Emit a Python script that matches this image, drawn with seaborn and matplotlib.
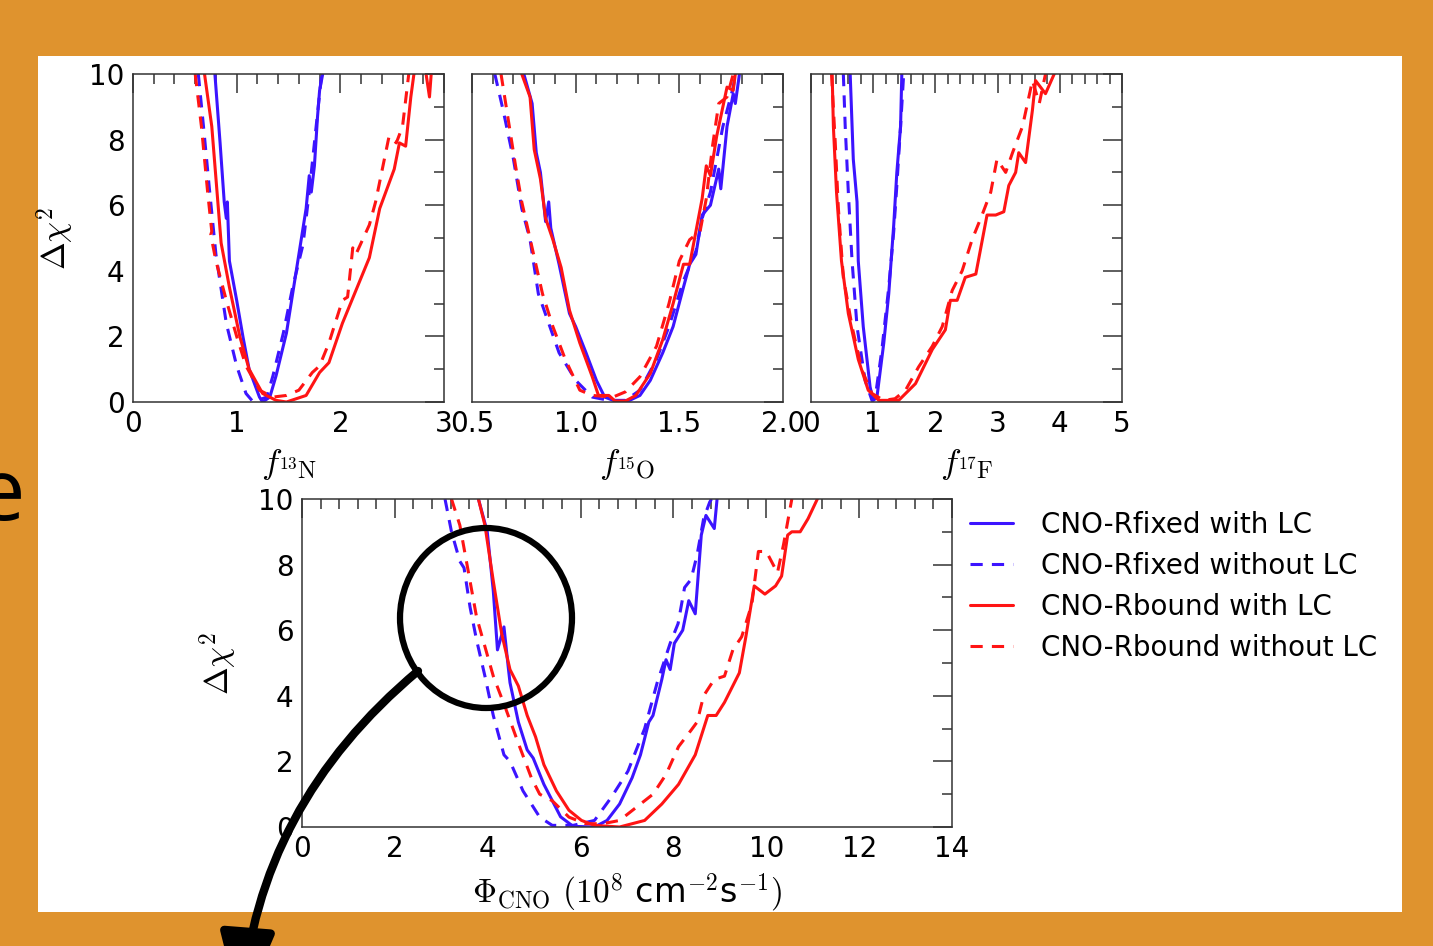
import pandas as pd
import matplotlib
matplotlib.use('Agg')
import matplotlib.pyplot as plt
import seaborn as sns
from matplotlib.patches import Ellipse, FancyArrowPatch, Rectangle
from matplotlib.lines import Line2D
from matplotlib.ticker import MultipleLocator

series = ['CNO-Rfixed with LC', 'CNO-Rfixed without LC',
          'CNO-Rbound with LC', 'CNO-Rbound without LC']

# --- f_13N panel
n13_fixed_lc_x = [0.79, 0.84, 0.88, 0.90, 0.91, 0.93, 1.00, 1.06, 1.12, 1.22, 1.25, 1.32, 1.38, 1.48, 1.54, 1.60, 1.67, 1.70, 1.72, 1.75, 1.78, 1.80, 1.83]
n13_fixed_lc_y = [10.0, 7.9, 6.1, 5.6, 6.1, 4.3, 3.1, 2.0, 1.0, 0.15, 0.0, 0.15, 0.8, 2.1, 3.3, 4.5, 5.9, 6.9, 6.4, 7.2, 8.7, 9.5, 10.0]
n13_fixed_nolc_x = [0.63, 0.68, 0.74, 0.80, 0.90, 1.00, 1.09, 1.16, 1.29, 1.35, 1.45, 1.54, 1.64, 1.70, 1.75, 1.80, 1.82]
n13_fixed_nolc_y = [10.0, 8.4, 6.4, 4.5, 2.4, 1.1, 0.26, 0.0, 0.15, 0.8, 2.1, 3.5, 4.8, 6.4, 7.9, 9.4, 10.0]
n13_bound_lc_x = [0.69, 0.76, 0.85, 0.93, 1.03, 1.12, 1.25, 1.38, 1.48, 1.67, 1.80, 1.89, 2.02, 2.15, 2.28, 2.38, 2.52, 2.57, 2.63, 2.68, 2.71, 2.78, 2.86, 2.90]
n13_bound_lc_y = [10.0, 8.4, 4.85, 3.5, 2.0, 1.0, 0.26, 0.05, 0.0, 0.2, 0.9, 1.2, 2.4, 3.4, 4.4, 5.9, 7.1, 7.9, 7.8, 9.3, 10.0, 11.0, 9.3, 11.0]
n13_bound_nolc_x = [0.60, 0.66, 0.72, 0.76, 0.75, 0.80, 0.90, 1.00, 1.09, 1.22, 1.35, 1.48, 1.60, 1.73, 1.80, 1.89, 2.02, 2.07, 2.12, 2.15, 2.28, 2.34, 2.47, 2.54, 2.60, 2.66]
n13_bound_nolc_y = [10.0, 8.4, 6.4, 5.2, 5.1, 4.3, 3.1, 2.0, 1.1, 0.36, 0.15, 0.2, 0.36, 0.9, 1.1, 1.8, 3.1, 3.2, 4.7, 4.5, 5.4, 6.1, 8.1, 7.9, 8.4, 10.0]

# --- f_15O panel
o15_fixed_lc_x = [0.75, 0.79, 0.81, 0.83, 0.855, 0.87, 0.88, 0.92, 0.97, 1.00, 1.05, 1.10, 1.14, 1.19, 1.26, 1.31, 1.36, 1.42, 1.47, 1.52, 1.55, 1.58, 1.61, 1.65, 1.69, 1.70, 1.73, 1.76, 1.77, 1.79]
o15_fixed_lc_y = [10.0, 9.1, 7.6, 7.0, 5.5, 6.1, 5.3, 4.2, 2.7, 2.3, 1.5, 0.66, 0.15, 0.03, 0.05, 0.2, 0.66, 1.5, 2.3, 3.5, 4.2, 4.5, 5.7, 6.0, 7.1, 6.5, 8.4, 9.4, 9.1, 10.0]
o15_fixed_nolc_x = [0.61, 0.65, 0.70, 0.74, 0.78, 0.82, 0.87, 0.92, 1.00, 1.08, 1.16, 1.24, 1.31, 1.39, 1.45, 1.52, 1.58, 1.61, 1.65, 1.68, 1.71, 1.76, 1.77]
o15_fixed_nolc_y = [10.0, 8.9, 7.4, 5.9, 4.95, 3.3, 2.4, 1.5, 0.66, 0.15, 0.05, 0.05, 0.36, 1.3, 2.3, 3.7, 4.6, 5.6, 6.4, 7.4, 8.4, 9.6, 10.0]
o15_bound_lc_x = [0.74, 0.78, 0.80, 0.83, 0.855, 0.89, 0.93, 0.97, 1.02, 1.08, 1.11, 1.16, 1.19, 1.24, 1.29, 1.36, 1.42, 1.47, 1.52, 1.55, 1.58, 1.61, 1.63, 1.65, 1.68, 1.73, 1.76, 1.77]
o15_bound_lc_y = [10.0, 9.3, 7.7, 6.8, 5.6, 4.95, 4.1, 2.8, 1.8, 0.77, 0.2, 0.2, 0.03, 0.03, 0.2, 0.87, 1.9, 3.0, 4.2, 4.2, 5.2, 6.2, 7.2, 6.9, 8.1, 9.6, 9.5, 10.0]
o15_bound_nolc_x = [0.64, 0.68, 0.71, 0.74, 0.79, 0.84, 0.89, 0.95, 1.02, 1.08, 1.18, 1.24, 1.31, 1.39, 1.45, 1.50, 1.55, 1.60, 1.63, 1.66, 1.69, 1.73, 1.76]
o15_bound_nolc_y = [10.0, 8.4, 7.2, 6.1, 4.7, 3.3, 2.3, 1.3, 0.36, 0.2, 0.15, 0.31, 0.77, 1.7, 3.0, 4.3, 4.95, 5.2, 6.2, 7.8, 9.1, 9.3, 10.0]

# --- f_17F panel
f17_fixed_lc_x = [0.63, 0.68, 0.74, 0.76, 0.84, 0.95, 1.00, 1.06, 1.17, 1.25, 1.33, 1.38, 1.44, 1.46]
f17_fixed_lc_y = [10.0, 7.4, 6.1, 4.3, 2.3, 0.46, 0.05, 0.15, 1.8, 3.3, 5.4, 7.0, 8.4, 10.0]
f17_fixed_nolc_x = [0.52, 0.55, 0.60, 0.66, 0.74, 0.87, 0.98, 1.03, 1.14, 1.25, 1.33, 1.38, 1.44, 1.49]
f17_fixed_nolc_y = [10.0, 8.4, 6.4, 4.3, 2.3, 0.66, 0.05, 0.1, 1.6, 3.5, 5.2, 6.6, 8.4, 10.0]
f17_bound_lc_x = [0.34, 0.36, 0.41, 0.49, 0.60, 0.76, 0.92, 1.09, 1.41, 1.68, 1.95, 2.16, 2.24, 2.35, 2.48, 2.65, 2.83, 2.97, 3.10, 3.18, 3.29, 3.34, 3.45, 3.56, 3.61, 3.77, 3.91]
f17_bound_lc_y = [10.0, 8.4, 6.4, 4.3, 2.7, 1.3, 0.36, 0.05, 0.05, 0.56, 1.6, 2.2, 3.1, 3.1, 3.8, 3.9, 5.7, 5.7, 5.8, 6.6, 7.0, 7.6, 7.3, 8.9, 9.8, 9.4, 10.0]
f17_bound_nolc_x = [0.33, 0.39, 0.44, 0.52, 0.66, 0.82, 0.98, 1.17, 1.35, 1.52, 1.73, 1.95, 2.11, 2.27, 2.43, 2.59, 2.75, 2.89, 2.99, 3.13, 3.24, 3.40, 3.56, 3.67, 3.77]
f17_bound_nolc_y = [10.0, 7.9, 5.9, 3.8, 2.3, 0.97, 0.26, 0.05, 0.1, 0.36, 1.07, 1.7, 2.3, 3.4, 4.0, 4.95, 5.7, 6.4, 7.4, 7.0, 7.6, 8.4, 9.8, 9.1, 10.0]

# --- Phi_CNO panel
cno_fixed_lc_x = [3.80, 3.99, 4.12, 4.21, 4.35, 4.44, 4.48, 4.66, 4.85, 4.98, 5.21, 5.57, 5.84, 6.30, 6.57, 6.84, 7.11, 7.29, 7.47, 7.56, 7.75, 7.84, 7.93, 8.02, 8.20, 8.33, 8.47, 8.60, 8.70, 8.88, 8.94]
cno_fixed_lc_y = [10.0, 9.0, 7.2, 5.4, 6.1, 4.9, 4.4, 3.2, 2.35, 2.1, 1.3, 0.31, 0.02, 0.0, 0.2, 0.7, 1.5, 2.2, 3.2, 3.4, 4.5, 5.1, 4.8, 5.6, 6.0, 6.9, 6.5, 8.9, 9.5, 9.1, 10.0]
cno_fixed_nolc_x = [3.08, 3.22, 3.40, 3.49, 3.62, 3.76, 3.94, 4.12, 4.35, 4.48, 4.76, 5.12, 5.39, 5.84, 6.30, 6.66, 7.02, 7.38, 7.65, 7.93, 8.10, 8.24, 8.38, 8.51, 8.65, 8.78, 8.82]
cno_fixed_nolc_y = [10.0, 9.0, 8.1, 7.9, 6.7, 5.7, 4.6, 3.4, 2.2, 2.0, 1.1, 0.3, 0.05, 0.05, 0.2, 0.9, 1.7, 3.0, 4.4, 5.6, 6.2, 7.3, 7.55, 8.3, 9.4, 9.9, 10.0]
cno_bound_lc_x = [3.80, 3.94, 4.12, 4.30, 4.48, 4.66, 4.85, 5.03, 5.21, 5.48, 5.75, 6.02, 6.30, 6.84, 7.38, 7.75, 8.11, 8.47, 8.74, 8.92, 9.10, 9.42, 9.56, 9.74, 9.97, 10.20, 10.33, 10.46, 10.55, 10.73, 10.90, 11.10]
cno_bound_lc_y = [10.0, 9.2, 7.5, 5.9, 4.8, 4.3, 3.4, 2.75, 1.9, 1.1, 0.51, 0.2, 0.05, 0.0, 0.2, 0.7, 1.3, 2.2, 3.4, 3.4, 3.8, 4.7, 5.8, 7.35, 7.1, 7.35, 7.65, 8.9, 9.0, 9.0, 9.4, 10.0]
cno_bound_nolc_x = [3.22, 3.40, 3.58, 3.76, 3.94, 4.12, 4.39, 4.66, 4.94, 5.12, 5.39, 5.75, 6.11, 6.48, 6.84, 7.20, 7.56, 7.84, 8.11, 8.38, 8.51, 8.65, 8.88, 9.10, 9.28, 9.47, 9.69, 9.83, 10.00, 10.24, 10.37, 10.55]
cno_bound_nolc_y = [10.0, 9.2, 7.8, 6.4, 5.5, 4.6, 3.6, 2.55, 1.5, 1.0, 0.8, 0.3, 0.1, 0.1, 0.2, 0.6, 1.0, 1.6, 2.45, 2.95, 3.2, 4.0, 4.5, 4.6, 5.4, 5.8, 6.8, 8.4, 8.4, 7.75, 8.6, 10.0]

blue = '#3c14ff'
red = '#ff1414'
palette = dict(zip(series, [blue, blue, red, red]))
dashes = dict(zip(series, ['', (4, 3), '', (4, 3)]))

sns.set_theme(style='white')
plt.rcParams['font.family'] = ['DejaVu Sans']
plt.rcParams['mathtext.fontset'] = 'cm'
plt.rcParams['text.color'] = 'black'
plt.rcParams['axes.labelcolor'] = 'black'

W, H = 1433, 946
fig = plt.figure(figsize=(W / 100, H / 100), dpi=100)
fig.patch.set_facecolor('#df932e')
fig.add_artist(Rectangle((38 / W, 1 - 912 / H), 1364 / W, 856 / H, transform=fig.transFigure,
                         facecolor='white', edgecolor='none', zorder=-5))


def px_axes(left, top, right, bottom):
    return fig.add_axes([left / W, 1 - bottom / H, (right - left) / W, (bottom - top) / H])


def draw(ax, curves, xlim, xmaj, xmin):
    frames = []
    for name, (xs, ys) in zip(series, curves):
        frames.append(pd.DataFrame({'x': xs, 'y': ys, 'series': name}))
    df = pd.concat(frames, ignore_index=True)
    sns.lineplot(data=df, x='x', y='y', hue='series', style='series', palette=palette,
                 dashes=dashes, sort=False, estimator=None, linewidth=2.2, ax=ax, legend=False)
    ax.set_xlim(*xlim)
    ax.set_ylim(0, 10)
    ax.xaxis.set_major_locator(MultipleLocator(xmaj))
    ax.xaxis.set_minor_locator(MultipleLocator(xmin))
    ax.yaxis.set_major_locator(MultipleLocator(2))
    ax.yaxis.set_minor_locator(MultipleLocator(1))
    ax.tick_params(which='both', direction='in', top=True, right=True, colors='#333333',
                   labelcolor='black', labelsize=20, pad=6)
    ax.tick_params(which='major', length=14, width=1.1)
    ax.tick_params(which='minor', length=7, width=1.1)
    for s in ax.spines.values():
        s.set_color('#333333')
        s.set_linewidth(1.1)
    ax.set_xlabel('')
    ax.set_ylabel('')


ax1 = px_axes(133, 74, 444, 402)
draw(ax1, [(n13_fixed_lc_x, n13_fixed_lc_y), (n13_fixed_nolc_x, n13_fixed_nolc_y),
           (n13_bound_lc_x, n13_bound_lc_y), (n13_bound_nolc_x, n13_bound_nolc_y)],
     (0, 3), 1, 0.2)
ax1.set_xlabel(r'$f_{^{13}\mathrm{N}}$', fontsize=25, labelpad=6)
ax1.set_ylabel(r'$\Delta\chi^2$', fontsize=24, labelpad=9)

ax2 = px_axes(472, 74, 783, 402)
draw(ax2, [(o15_fixed_lc_x, o15_fixed_lc_y), (o15_fixed_nolc_x, o15_fixed_nolc_y),
           (o15_bound_lc_x, o15_bound_lc_y), (o15_bound_nolc_x, o15_bound_nolc_y)],
     (0.5, 2.0), 0.5, 0.1)
ax2.tick_params(labelleft=False)
ax2.set_xlabel(r'$f_{^{15}\mathrm{O}}$', fontsize=25, labelpad=6)

ax3 = px_axes(811, 74, 1122, 402)
draw(ax3, [(f17_fixed_lc_x, f17_fixed_lc_y), (f17_fixed_nolc_x, f17_fixed_nolc_y),
           (f17_bound_lc_x, f17_bound_lc_y), (f17_bound_nolc_x, f17_bound_nolc_y)],
     (0, 5), 1, 0.2)
ax3.tick_params(labelleft=False)
ax3.set_xlabel(r'$f_{^{17}\mathrm{F}}$', fontsize=25, labelpad=6)

ax4 = px_axes(302, 499, 952, 827)
draw(ax4, [(cno_fixed_lc_x, cno_fixed_lc_y), (cno_fixed_nolc_x, cno_fixed_nolc_y),
           (cno_bound_lc_x, cno_bound_lc_y), (cno_bound_nolc_x, cno_bound_nolc_y)],
     (0, 14), 2, 0.4)
ax4.set_xlabel(r'$\Phi_{\mathrm{CNO}}$ $(10^8$ cm$^{-2}$s$^{-1})$', fontsize=24, labelpad=6)
ax4.set_ylabel(r'$\Delta\chi^2$', fontsize=24, labelpad=13)

handles = [Line2D([], [], color=palette[s], lw=2.2, linestyle='-' if dashes[s] == '' else (0, dashes[s]))
           for s in series]
fig.legend(handles, series, loc='upper left', bbox_to_anchor=(970 / W, 1 - 511 / H),
           frameon=False, fontsize=20, handlelength=1.55, handletextpad=1.0,
           labelspacing=0.47, borderaxespad=0, borderpad=0, labelcolor='black')

# annotation overlay: circle and curved arrow
fig.add_artist(Ellipse((486 / W, 1 - 618 / H), 172 / W, 180 / H, transform=fig.transFigure,
                       fill=False, edgecolor='black', lw=4.5, zorder=10))
fig.add_artist(FancyArrowPatch((418 / W, 1 - 671 / H), (241 / W, 1 - 1014 / H),
                               transform=fig.transFigure, connectionstyle='arc3,rad=0.21',
                               arrowstyle='-|>,head_length=1.25,head_width=0.42',
                               mutation_scale=40, lw=6, color='black',
                               shrinkA=0, shrinkB=0, zorder=10))
fig.text(25 / W, 1 - 520 / H, 'e', fontsize=62, ha='right', va='baseline', color='black',
         family=['Open Sans', 'DejaVu Sans'])

fig.savefig('out.png', dpi=100, facecolor=fig.get_facecolor())
